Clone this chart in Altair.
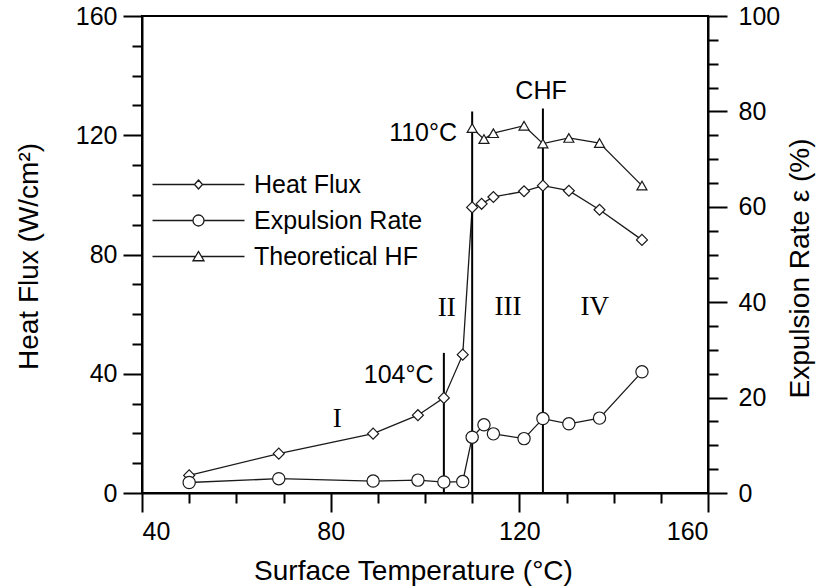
import altair as alt
import pandas as pd

# Measured heat flux (W/cm²) against surface temperature (°C)
hf_temp = [50, 69, 89, 98.5, 104, 108, 110, 112, 114.5, 121, 125, 130.5, 137, 146]
hf_value = [5.9, 13.2, 19.9, 26.1, 31.9, 46.4, 95.8, 97.0, 99.3, 101.2, 103.1, 101.4, 95.0, 84.9]

# Expulsion rate (%) against surface temperature (°C)
er_temp = [50, 69, 89, 98.5, 104, 108, 110, 112.5, 114.5, 121, 125, 130.5, 137, 146]
er_value = [2.2, 3.0, 2.5, 2.7, 2.3, 2.4, 11.7, 14.3, 12.4, 11.4, 15.6, 14.5, 15.7, 25.4]

# Theoretical heat flux (W/cm²)
th_temp = [110, 112.5, 114.5, 121, 125, 130.5, 137, 146]
th_value = [122.4, 118.7, 120.7, 123.2, 117.2, 119.1, 117.4, 103.1]

# Regime boundaries: temperature and height of each vertical line
bound_temp = [104, 110, 125]
bound_top = [47, 128, 129]

# Regime labels
regime_text = ["I", "II", "III", "IV"]
regime_temp = [81.4, 104.6, 117.6, 136]
regime_hf = [24.9, 62, 62.4, 62.4]

# Boundary annotations
note_text = ["104°C", "110°C", "CHF"]
note_temp = [101.8, 106.8, 124.6]
note_hf = [39.5, 120.7, 134.7]
note_align = ["right", "right", "center"]

series_names = ["Heat Flux", "Expulsion Rate", "Theoretical HF"]

# Axis tick positions
x_ticks = list(range(40, 161, 10))
hf_ticks = list(range(0, 161, 10))
er_ticks = list(range(0, 101, 5))

FONT = "Liberation Sans"
SERIF = "Liberation Serif"
INK = "#1a1a1a"

hf_df = pd.DataFrame({"temp": hf_temp, "value": hf_value, "series": "Heat Flux"})
th_df = pd.DataFrame({"temp": th_temp, "value": th_value, "series": "Theoretical HF"})
er_df = pd.DataFrame({"temp": er_temp, "value": er_value, "series": "Expulsion Rate"})
bound_df = pd.DataFrame({"temp": bound_temp, "bottom": [0] * len(bound_temp), "top": bound_top})
regime_df = pd.DataFrame({"temp": regime_temp, "value": regime_hf, "label": regime_text})
note_df = pd.DataFrame({"temp": note_temp, "value": note_hf, "label": note_text, "align": note_align})
legend_df = pd.concat([hf_df, th_df], ignore_index=True)


def tick_len(step):
    return {"condition": {"test": f"datum.value % {step} === 0", "value": 19}, "value": 10}


x_scale = alt.Scale(domain=[40, 160], nice=False, zero=False)
hf_scale = alt.Scale(domain=[0, 160], nice=False)
er_scale = alt.Scale(domain=[0, 100], nice=False)

x_axis = alt.Axis(
    values=x_ticks,
    labelExpr="datum.value % 40 === 0 ? datum.label : ''",
    tickSize=tick_len(40),
    labelPadding=7,
    title="Surface Temperature (°C)",
    titleX=271, titleY=86, titleAlign="center", titleBaseline="alphabetic",
)
hf_axis = alt.Axis(
    values=hf_ticks,
    labelExpr="datum.value % 40 === 0 ? datum.label : ''",
    tickSize=tick_len(40),
    labelPadding=6,
    title="Heat Flux (W/cm²)",
    titleAngle=270, titleX=-113, titleY=240, titleAlign="center", titleBaseline="middle",
)
er_axis = alt.Axis(
    orient="right",
    values=er_ticks,
    labelExpr="datum.value % 20 === 0 ? datum.label : ''",
    tickSize=tick_len(20),
    labelPadding=11,
    title="Expulsion Rate ε (%)",
    titleAngle=270, titleX=92, titleY=252, titleAlign="center", titleBaseline="middle",
)

X = alt.X("temp:Q", scale=x_scale, axis=x_axis)
Y_HF = alt.Y("value:Q", scale=hf_scale, axis=hf_axis)
Y_ER = alt.Y("value:Q", scale=er_scale, axis=er_axis)

line_style = dict(color=INK, strokeWidth=1.3)
marker_style = dict(filled=True, fill="white", stroke=INK, strokeWidth=1.2, opacity=1)

hf_line = alt.Chart(hf_df).mark_line(**line_style).encode(x=X, y=Y_HF)
th_line = alt.Chart(th_df).mark_line(**line_style).encode(x=X, y=Y_HF)
hf_pts = alt.Chart(hf_df).mark_point(shape="diamond", size=120, **marker_style).encode(x=X, y=Y_HF)
th_pts = alt.Chart(th_df).mark_point(shape="triangle-up", size=100, **marker_style).encode(x=X, y=Y_HF)

bounds = alt.Chart(bound_df).mark_rule(color="black", strokeWidth=2).encode(
    x=X, y=alt.Y("bottom:Q", scale=hf_scale, axis=hf_axis), y2="top:Q"
)

regimes = alt.Chart(regime_df).mark_text(
    font=SERIF, fontSize=27, align="center", baseline="middle", color="black"
).encode(x=X, y=Y_HF, text="label:N")

notes_right = alt.Chart(note_df).transform_filter(alt.datum.align == "right").mark_text(
    font=FONT, fontSize=25, align="right", baseline="middle", color="black"
).encode(x=X, y=Y_HF, text="label:N")
notes_center = alt.Chart(note_df).transform_filter(alt.datum.align == "center").mark_text(
    font=FONT, fontSize=25, align="center", baseline="middle", color="black"
).encode(x=X, y=Y_HF, text="label:N")

# Legend symbols: a line segment with the series marker in the middle
legend_paths = [
    "M-9.2,0H-0.8M0.8,0H9.2M0,-0.9L0.8,0L0,0.9L-0.8,0Z",
    "M-9.2,0H-1.1M1.1,0H9.2M1.1,0A1.1,1.1,0,1,1,-1.1,0A1.1,1.1,0,1,1,1.1,0Z",
    "M-9.2,0H-0.6M0.6,0H9.2M0,-1L1.1,0.85L-1.1,0.85Z",
]
legend_layer = alt.Chart(legend_df).mark_point(opacity=0, color=INK).encode(
    x=X,
    y=Y_HF,
    shape=alt.Shape(
        "series:N",
        scale=alt.Scale(domain=series_names, range=legend_paths),
        legend=alt.Legend(
            title=None,
            orient="none",
            legendX=44,
            legendY=156,
            padding=0,
            symbolSize=100,
            symbolFillColor="white",
            symbolStrokeColor=INK,
            symbolStrokeWidth=1.3,
            symbolOpacity=1,
            labelFont=FONT,
            labelFontSize=25,
            labelColor="black",
            labelOffset=43,
            labelLimit=0,
            rowPadding=10,
        ),
    ),
)

er_line = alt.Chart(er_df).mark_line(**line_style).encode(x=X, y=Y_ER)
er_pts = alt.Chart(er_df).mark_point(shape="circle", size=150, **marker_style).encode(x=X, y=Y_ER)

left = alt.layer(hf_line, th_line, bounds, hf_pts, th_pts, regimes, notes_right, notes_center, legend_layer)
right = alt.layer(er_line, er_pts)

chart = (
    alt.layer(left, right)
    .resolve_scale(y="independent")
    .properties(
        width=566,
        height=477,
        autosize="none",
        padding={"left": 142, "top": 16, "right": 108, "bottom": 95},
        background="white",
    )
    .configure_view(stroke="black", strokeWidth=2)
    .configure_axis(
        grid=False,
        domainColor="black",
        domainWidth=2,
        tickColor="black",
        tickWidth=2,
        labelFont=FONT,
        labelFontSize=25,
        labelColor="black",
        titleFont=FONT,
        titleFontSize=28,
        titleFontWeight="normal",
        titleColor="black",
    )
)

chart.save("out.html", embed_options={"renderer": "svg", "actions": False})
